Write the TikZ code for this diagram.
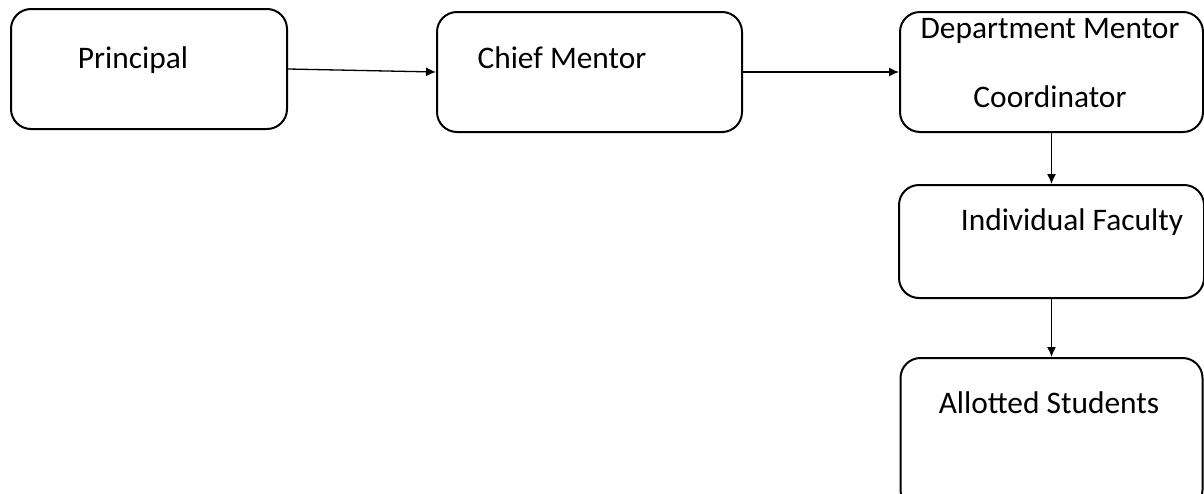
\documentclass[tikz,border=0pt]{standalone}
\usepackage{fontspec}
\setmainfont{Carlito}
\usetikzlibrary{arrows.meta}

\begin{document}
\begin{tikzpicture}[x=0.5pt,y=-0.5pt,>={Latex[length=5pt,width=4.5pt]},
    box/.style={draw,rounded corners=10pt,line width=1pt,inner sep=0pt},
    txt/.style={anchor=base,inner sep=0pt,font=\fontsize{15.7}{18}\selectfont}]
        \useasboundingbox (0,0) rectangle (1204,493);
        % boxes
        \node[box,minimum width=138pt,minimum height=60pt] (principal) at (149,69){};
        \node[box,minimum width=152.5pt,minimum height=60pt] (chief) at (589.5,72){};
        \node[box,minimum width=151.5pt,minimum height=60pt] (dept) at (1051.5,72){};
        \node[box,minimum width=152.5pt,minimum height=56.5pt] (faculty) at (1051.5,241.5){};
        \node[box,minimum width=151pt,minimum height=76pt] (allotted) at (1051.5,434){};
        % texts
        \node[txt] (principalT) at (133,68){Principal};
        \node[txt] (chiefT) at (562,68){Chief Mentor};
        \node[txt] (deptT) at (1050,38){Department Mentor};
        \node[txt] (deptT2) at (1050,107){Coordinator};
        \node[txt] (facultyT) at (1072,230){Individual Faculty};
        \node[txt] (allottedT) at (1049,413){Allotted Students};
        % arrows
        \draw[->,line width=0.65pt](principal.east)--(chief.west);
        \draw[->,line width=0.65pt](chief.east)--(dept.west);
        \draw[->,line width=0.65pt](dept.south)--(faculty.north);
        \draw[->,line width=0.65pt](faculty.south)--(allotted.north);
    \end{tikzpicture}
\end{document}
